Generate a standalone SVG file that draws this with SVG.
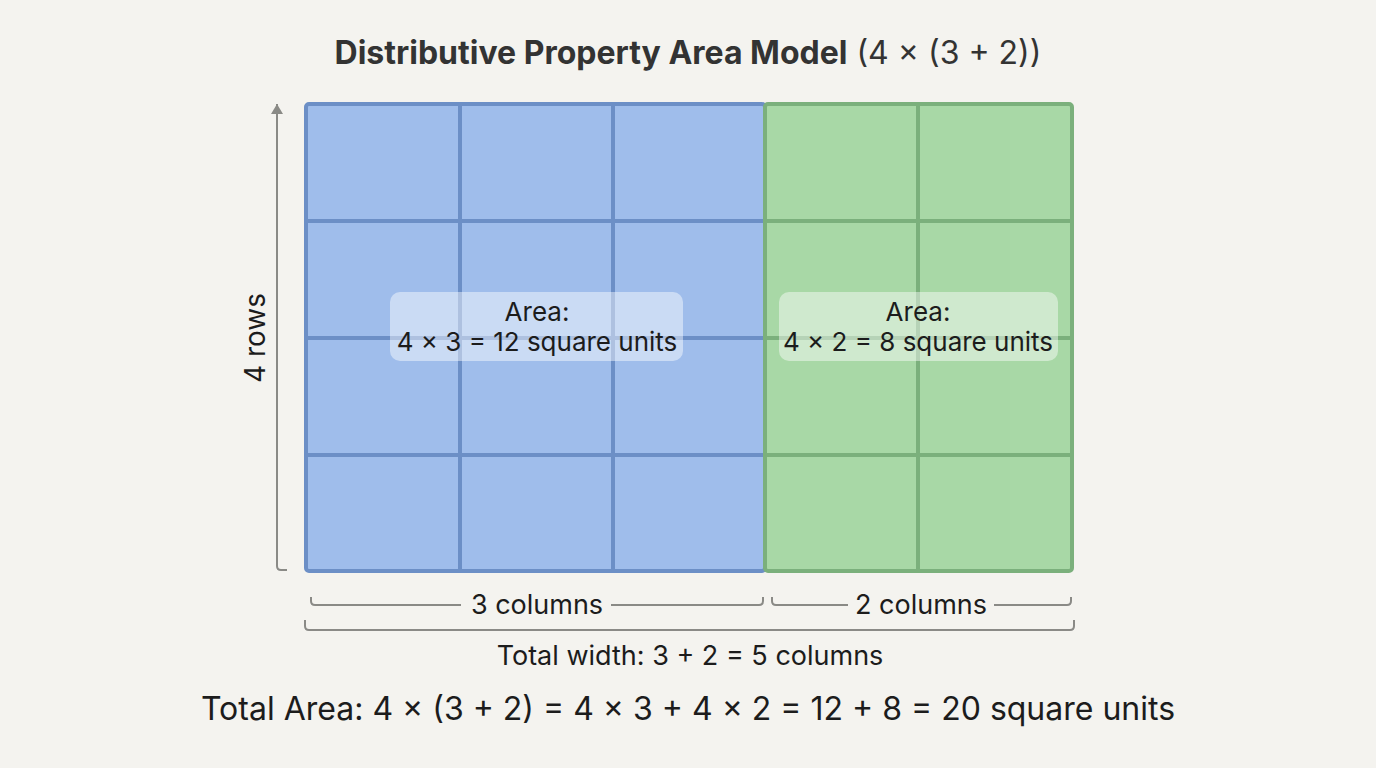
<svg xmlns="http://www.w3.org/2000/svg" width="1376" height="768" viewBox="0 0 1376 768">
<defs>
<marker id="arr" viewBox="0 0 10 12" refX="10" refY="6" markerWidth="10" markerHeight="12" markerUnits="userSpaceOnUse" orient="auto-start-reverse">
<path d="M0,0 L10,6 L0,12 Z" fill="#8a8a86"/>
</marker>
<style>
text{font-family:Inter,"Noto Sans","Liberation Sans",sans-serif;fill:#1c1c1c;}
.cellb{fill:#9fbdeb;stroke:#6c8fc6;stroke-width:4;}
.cellg{fill:#a8d8a6;stroke:#7bb07c;stroke-width:4;}
.lb{fill:#ffffff;fill-opacity:0.45;}
.br{fill:none;stroke:#8a8a86;stroke-width:2;}
.lab{font-size:26px;text-anchor:middle;}
</style>
</defs>
<rect width="1376" height="768" fill="#f4f3ef"/>
<text x="688" y="64" text-anchor="middle" font-size="32" style="fill:#333"><tspan font-weight="bold">Distributive Property Area Model</tspan> (4 × (3 + 2))</text>

<g id="blue-part">
<rect x="306" y="104" width="459" height="467" rx="3" class="cellb"/>
<path d="M460,104V571M613,104V571M306,221H765M306,338H765M306,455H765" stroke="#6c8fc6" stroke-width="4" fill="none"/>
</g>
<g id="green-part">
<rect x="765" y="104" width="307" height="467" rx="3" class="cellg"/>
<path d="M918,104V571M765,221H1072M765,338H1072M765,455H1072" stroke="#7bb07c" stroke-width="4" fill="none"/>
</g>
<g id="blue-label">
<rect x="390" y="292" width="293" height="69" rx="10" class="lb"/>
<text x="537" y="321" class="lab">Area:</text>
<text x="537" y="351" class="lab">4 × 3 = 12 square units</text>
</g>
<g id="green-label">
<rect x="779" y="292" width="279" height="69" rx="10" class="lb"/>
<text x="918" y="321" class="lab">Area:</text>
<text x="918" y="351" class="lab">4 × 2 = 8 square units</text>
</g>

<g id="connectors">
<path d="M277,104V566Q277,570 281,570H287" class="br" marker-start="url(#arr)"/>
<path d="M311,597V601Q311,605 315,605H461M611,605H759Q763,605 763,601V597" class="br"/>
<path d="M772,597V601Q772,605 776,605H848M994,605H1067Q1071,605 1071,601V597" class="br"/>
<path d="M305,620V626Q305,630 309,630H1070Q1074,630 1074,626V620" class="br"/>
</g>

<g id="rows-label">
<text x="265" y="338" text-anchor="middle" font-size="28" transform="rotate(-90 265 338)">4 rows</text>
</g>
<g id="col-labels">
<text x="537" y="614" text-anchor="middle" font-size="27">3 columns</text>
<text x="921" y="614" text-anchor="middle" font-size="27">2 columns</text>
<text x="690" y="665" text-anchor="middle" font-size="27">Total width: 3 + 2 = 5 columns</text>
</g>
<text x="688" y="720" text-anchor="middle" font-size="32">Total Area: 4 × (3 + 2) = 4 × 3 + 4 × 2 = 12 + 8 = 20 square units</text>
</svg>
